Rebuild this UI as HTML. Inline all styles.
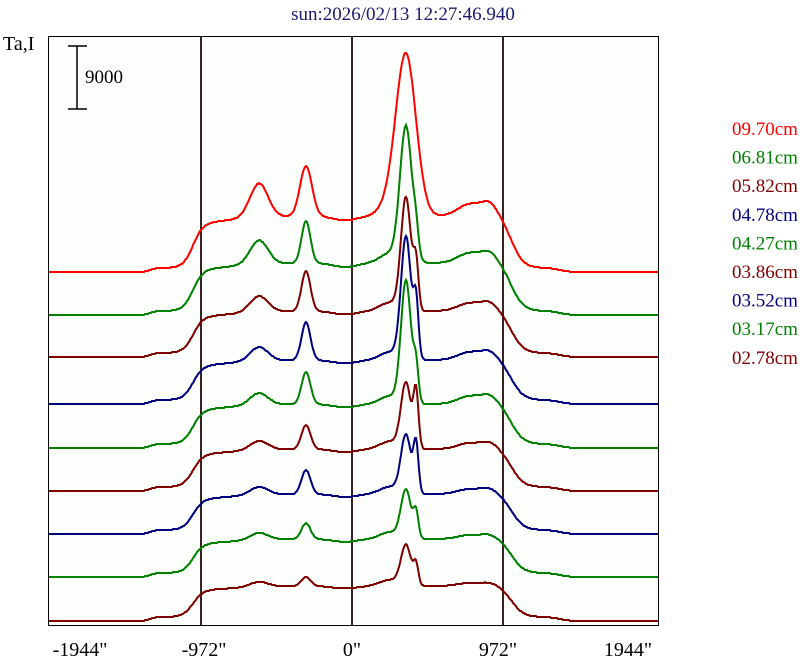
<!DOCTYPE html>
<html><head><meta charset="utf-8"><style>
body{margin:0;background:#fff;}
svg text{font-family:"Liberation Serif",serif;}
</style></head><body>
<svg id="s" width="807" height="662" xmlns="http://www.w3.org/2000/svg">
<rect x="0" y="0" width="807" height="662" fill="#fff"/>
<text x="403" y="20" text-anchor="middle" font-size="19" fill="#1a1a6e">sun:2026/02/13 12:27:46.940</text>
<text x="3" y="50" font-size="20" fill="#000">Ta,I</text>
<rect x="48.5" y="36.5" width="610" height="589" fill="#fcfffc" stroke="#000" stroke-width="1"/>
<line x1="201" y1="36" x2="201" y2="625" stroke="#3a2020" stroke-width="2"/>
<line x1="352" y1="36" x2="352" y2="625" stroke="#3a2020" stroke-width="2"/>
<line x1="503" y1="36" x2="503" y2="625" stroke="#3a2020" stroke-width="2"/>
<line x1="77" y1="46" x2="77" y2="109" stroke="#000" stroke-width="1.5"/>
<line x1="68" y1="46" x2="87" y2="46" stroke="#000" stroke-width="1.5"/>
<line x1="68" y1="109" x2="87" y2="109" stroke="#000" stroke-width="1.5"/>
<text x="85" y="83" font-size="19">9000</text>
<g font-size="20" text-anchor="middle">
<text x="80" y="656">-1944"</text>
<text x="204" y="656">-972"</text>
<text x="352" y="656">0"</text>
<text x="498" y="656">972"</text>
<text x="628" y="656">1944"</text>
</g>
<g id="tr"></g>
<g font-size="19" id="leg"></g>
</svg>
<script>
const R="#ff0000",G="#008000",D="#800000",B="#000080";
const tr=[
 [272,R,52,160,10,0,34,50,12],
 [315,G,48,135,6,20,24,42,10],
 [357,D,42,112,5,45,16,40,8],
 [404,B,40,122,5,55,14,38,8],
 [448,G,40,122,5,35,12,32,8],
 [491,D,38,65,5,55,9,24,6],
 [534,B,36,58,5,48,8,24,5],
 [577,G,34,48,5,25,7,16,4],
 [621,D,31,40,5,20,5,9,3]];
const labs=["09.70cm","06.81cm","05.82cm","04.78cm","04.27cm","03.86cm","03.52cm","03.17cm","02.78cm"];
const sig=z=>1/(1+Math.exp(-z));
const g=(x,c,w)=>Math.exp(-((x-c)*(x-c))/(2*w*w));
let h="",l="";
tr.forEach((t,i)=>{
 const [b,c,dk,ma,mw,sa,l1,l2,rb]=t;
 let pts=[];
 for(let x=49;x<=658;x++){
  let disk=dk*sig((x-193)/5)*sig((512-x)/6)*(0.85+0.15*sig((x-230)/20));
  let lw2=i==0?6:4.5;
  let v=disk+ma*g(x,406,mw)+sa*g(x,416,2.5)+l1*g(x,259,9)+l2*g(x,306,lw2)
   +rb*g(x,470,12)+rb*g(x,490,8)+dk*0.2*g(x,390,10)-dk*0.08*g(x,345,12);
  v+=4*sig((x-150)/3)*sig((560-x)/5);
  let y=Math.round(b-v);
  pts.push(x+","+y);
 }
 h+=`<polyline points="${pts.join(" ")}" fill="none" stroke="${c}" stroke-width="2"/>`;
 l+=`<text x="732" y="${135+i*28.6}" fill="${c}">${labs[i]}</text>`;
});
document.getElementById("tr").innerHTML=h;
document.getElementById("leg").innerHTML=l;
</script>
</body></html>
